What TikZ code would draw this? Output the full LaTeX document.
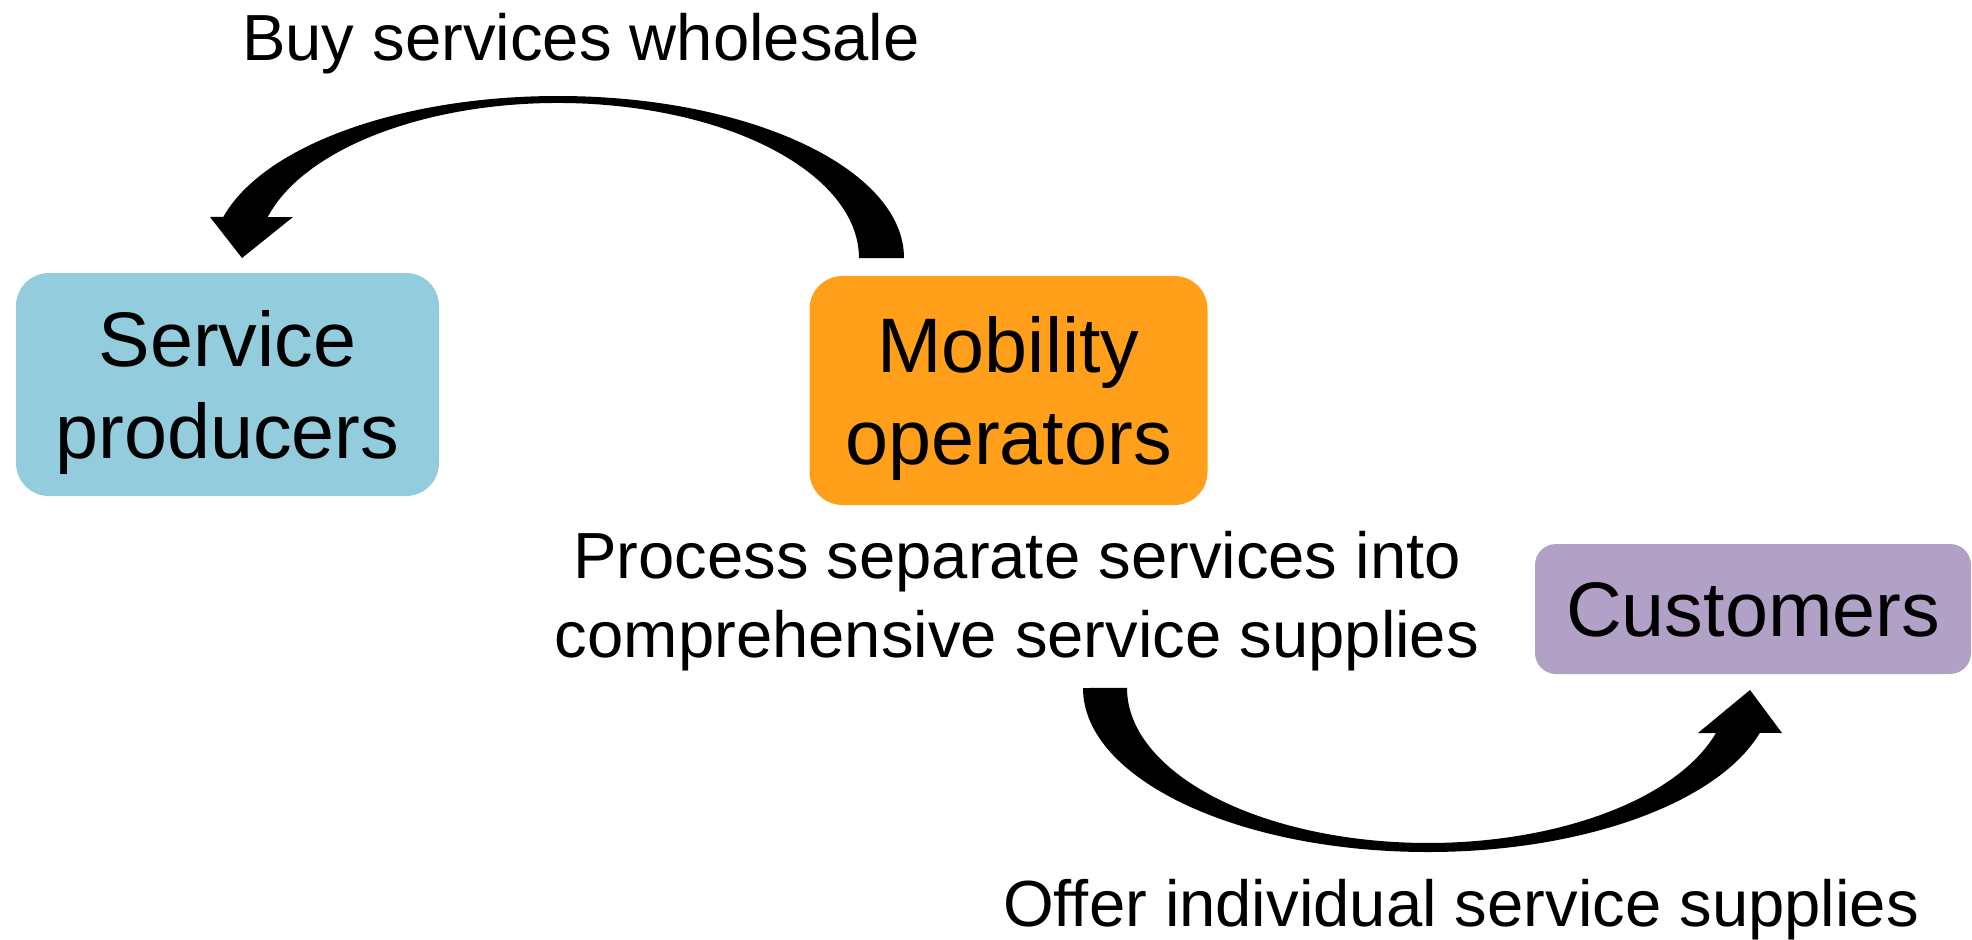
\documentclass[tikz,border=0pt]{standalone}
\usepackage{fontspec}
\setmainfont{Liberation Sans}
\usetikzlibrary{calc}
\definecolor{spblue}{HTML}{93CCDC}
\definecolor{moorange}{HTML}{FF9F1A}
\definecolor{cupurple}{HTML}{B2A1C7}
\tikzset{
  box/.style={rounded corners=3.3mm, inner sep=0pt, align=center, text depth=0pt,
    font=\fontsize{22}{26.3}\selectfont},
  lbl/.style={inner sep=0pt, align=center, font=\fontsize{18.55}{22.3}\selectfont}
}
\begin{document}
\begin{tikzpicture}[x=0.1mm,y=0.1mm]
            \useasboundingbox (0,0) rectangle (1972,939);
            \node[box, fill=spblue, minimum width=42.3mm, minimum height=22.3mm] (sp) at (227.5,554.5) {Service\\producers};
            \node[box, fill=moorange, minimum width=39.8mm, minimum height=22.9mm] (mo) at (1008.5,548.5) {Mobility\\operators};
            \node[box, fill=cupurple, rounded corners=2.1mm, minimum width=43.6mm, minimum height=13mm] (cu) at (1753,330) {Customers};
            \node[lbl, anchor=base] (buy) at (581,879) {Buy services wholesale};
            \node[lbl] (process) at (1017,337.9) {Process separate services into\\comprehensive service supplies};
            \node[lbl, anchor=base] (offer) at (1461,12.3) {Offer individual service supplies};
            \coordinate (buyc) at (558,681);
            \coordinate (offerc) at (1428,251);
            \fill ($(buyc)+(346,0)$) arc[start angle=0,end angle=165.3,x radius=346,y radius=162]
                -- ($(buyc)+(-348,41)$) -- ($(buyc)+(-316,0)$) -- ($(buyc)+(-265,41)$) -- ($(buyc)+(-290.3,41)$)
                arc[start angle=164.66,end angle=0,x radius=301,y radius=155] -- cycle;
            \fill ($(offerc)+(-345,0)$) arc[start angle=180,end angle=344.1,x radius=345,y radius=164]
                -- ($(offerc)+(354,-45)$) -- ($(offerc)+(322,-2)$) -- ($(offerc)+(270,-45)$) -- ($(offerc)+(288,-45)$)
                arc[start angle=343.1,end angle=180,x radius=301,y radius=155] -- cycle;
        \end{tikzpicture}
\end{document}
